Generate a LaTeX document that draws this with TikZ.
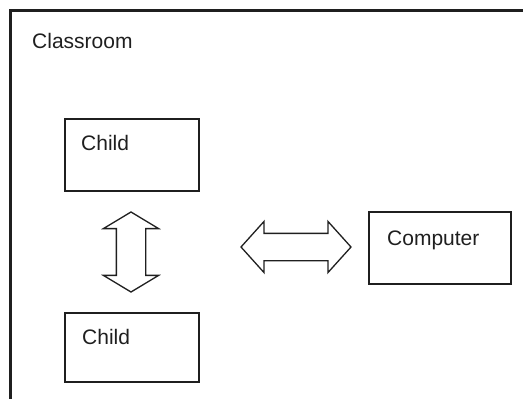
\documentclass[tikz,border=0pt]{standalone}
\usepackage{fontspec}
\setmainfont{Liberation Sans}
\usetikzlibrary{shapes.arrows}

\begin{document}
\begin{tikzpicture}
    [x=1pt, y=-1pt,
    every node/.style={font=\fontsize{21}{25}\selectfont, text=black!88},
    box/.style={draw=black!88, line width=2pt, minimum width=134pt, minimum height=72pt, inner sep=0pt},
    boxtext/.style={anchor=base west, inner sep=0pt},
    link/.style={draw=black!88, line width=1.3pt, double arrow, inner sep=0pt}]
    \useasboundingbox (0,0) rectangle (523,399);
    \draw[line width=3pt, black!88] (523,10) -- (10,10) -- (10,399);
    \node[boxtext] (room) at (32,48) {Classroom};
    \node[box] (child1) at (132,155) {};
    \node[box, minimum height=69pt] (child2) at (132,347.5) {};
    \node[box, minimum width=142pt] (computer) at (440,248) {};
    \node[boxtext] at ([shift={(17,32)}]child1.north west) {Child};
    \node[boxtext] at ([shift={(18,32)}]child2.north west) {Child};
    \node[boxtext] at ([shift={(19,34)}]computer.north west) {Computer};
    % arrows between the boxes
    \node[link, rotate=90, minimum height=80pt, minimum width=54pt, inner ysep=14pt,
      double arrow head extend=13pt, double arrow tip angle=118] (childlink) at (131,252) {};
    \node[link, minimum height=110pt, minimum width=50pt, inner ysep=13pt,
      double arrow head extend=12pt, double arrow tip angle=96] (complink) at (296,247) {};
\end{tikzpicture}
\end{document}
